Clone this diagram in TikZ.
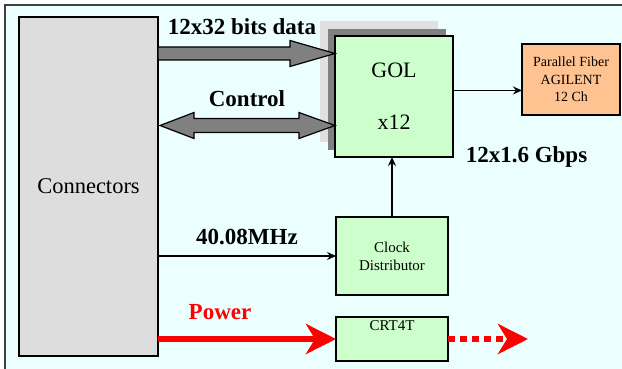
\documentclass[tikz,border=0pt]{standalone}
\usepackage{fontspec}
\setmainfont{Liberation Serif}
\usetikzlibrary{arrows.meta,positioning,calc}
\definecolor{bgcyan}{HTML}{EBFFFF}
\definecolor{framegray}{HTML}{404040}
\definecolor{conngray}{HTML}{DDDDDD}
\definecolor{golgreen}{HTML}{CCFFCC}
\definecolor{fiberorange}{HTML}{FFC291}
\definecolor{arrgray}{HTML}{808080}
\definecolor{shlight}{HTML}{E0E0E0}

\begin{document}
\begin{tikzpicture}[x=1pt, y=-1pt,
  box/.style={draw, line width=1.5pt, fill=golgreen, align=center,
              inner sep=0pt, outer sep=0pt},
  shadow/.style={inner sep=0pt, outer sep=0pt, minimum width=118pt, minimum height=121pt},
  lbl/.style={font=\fontsize{23}{27}\selectfont\bfseries, inner sep=0pt},
  fat/.style={draw, line width=1.2pt, fill=arrgray, line join=miter},
  ar/.style={line width=1.6pt, -{Stealth[length=9pt,width=8pt,inset=3pt]}},
  pw/.style={red, line width=6pt, -{Stealth[length=30pt,width=30pt,inset=9pt]}}
]
\useasboundingbox (0,0) rectangle (622,369);
\draw[line width=1.5pt, draw=framegray, fill=bgcyan] (5,5) rectangle (626,373);

\node[box, fill=conngray, minimum width=139pt, minimum height=339pt,
      font=\fontsize{22.5}{26}\selectfont] (conn) at (88.5,186.5) {Connectors};

% GOL stack
\node[shadow, fill=shlight] (gsh2) at (379,81.5) {};
\node[shadow, fill=arrgray] (gsh1) at (387,89.5) {};
\node[box, minimum width=118pt, minimum height=121pt,
      font=\fontsize{22}{52}\selectfont] (gol) at (394,96.5) {GOL\\x12};

\node[box, fill=fiberorange, minimum width=98pt, minimum height=71pt,
      font=\fontsize{14}{17.5}\selectfont] (fib) at (571,79.5) {Parallel Fiber\\AGILENT\\12 Ch};
\node[box, minimum width=112pt, minimum height=78pt,
      font=\fontsize{15}{18}\selectfont] (clk) at (392,256) {Clock\\Distributor};
\node[box, minimum width=112pt, minimum height=44pt,
      label={[anchor=north, inner sep=3pt, font=\fontsize{15}{18}\selectfont]north:CRT4T}] (crt) at (392,339) {};

% labels
\node[lbl] (ldata) at (242,27) {12x32 bits data};
\node[lbl] (lctl) at (247,99) {Control};
\node[lbl] (lclk) at (247,237) {40.08MHz};
\node[lbl, red] (lpw) at (220,312) {Power};
\node[lbl] (lrate) at (526.5,157) {12x1.6 Gbps};

% data bus
\coordinate (din) at (conn.east |- 0,53.5);
\coordinate (dout) at (gol.west |- din);
\draw[fat] ($(din)+(0,-6.5)$) -- ($(dout)+(-45,-6.5)$) -- ($(dout)+(-45,-13)$) -- (dout)
  -- ($(dout)+(-45,13)$) -- ($(dout)+(-45,6.5)$) -- ($(din)+(0,6.5)$) -- cycle;

% control bus
\coordinate (cin) at (conn.east |- 0,125.5);
\coordinate (cout) at (gol.west |- cin);
\draw[fat] ($(cin)+(2,0)$) -- ($(cin)+(36,-13)$) -- ($(cin)+(36,-7)$) -- ($(cout)+(-36,-7)$)
  -- ($(cout)+(-36,-13)$) -- (cout) -- ($(cout)+(-36,13)$) -- ($(cout)+(-36,7)$)
  -- ($(cin)+(36,7)$) -- ($(cin)+(36,13)$) -- cycle;

% thin links
\coordinate (golout) at ($(gol.north east)!0.45!(gol.south east)$);
\draw[ar] (golout) -- (golout -| fib.west);
\draw[ar] (clk.north) -- (clk.north |- gol.south);
\draw[ar] (conn.east |- clk.west) -- (clk.west);

% power
\coordinate (pwout) at ($(crt.east)+(80,0)$);
\draw[pw] (conn.east |- crt.west) -- (crt.west);
\draw[pw, dash pattern=on 7pt off 5pt] (crt.east) -- (pwout);
\end{tikzpicture}
\end{document}
